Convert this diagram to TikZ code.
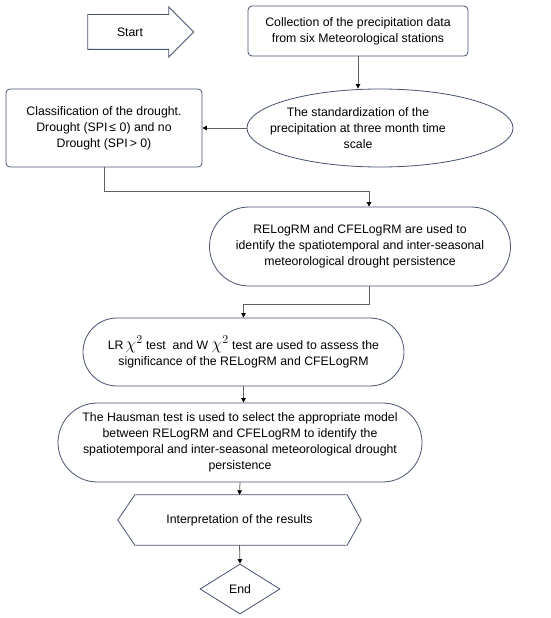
\documentclass[tikz,border=0pt]{standalone}
\usepackage{fontspec}
\setmainfont{Liberation Sans}
\usepackage{xcolor}
\usepackage{tikz}
\usetikzlibrary{arrows.meta, shapes.geometric, shapes.misc, shapes.arrows}
\definecolor{colEdge}{RGB}{72,82,112}
\definecolor{colLine}{RGB}{95,95,95}
\newcommand{\chisq}{{\fontsize{17}{17}\selectfont$\chi^{2}$}}

\begin{document}
\begin{tikzpicture}[x=1pt, y=-1pt,
    font=\fontsize{12.3}{16}\selectfont,
    box/.style={draw=colEdge, thick, align=center, inner sep=0pt},
    flow/.style={colLine, thick, -{Triangle[width=4.5pt,length=4.5pt,black]}}]

\useasboundingbox (0,0) rectangle (550,618);

% Start
\node[box, single arrow, single arrow head extend=7.5pt,
      text height=0pt, text depth=0pt, inner ysep=17pt,
      minimum height=106pt] (start) at (132,32) {};
\node (starttxt) at (130,32) {Start};

% Collecte
\node[box, rounded corners=4pt, minimum width=220pt, minimum height=50pt]
    (coll) at (358,31)
    {Collection of the precipitation data\\from six Meteorological stations};

% Standardisation (ellipse, texte decale a gauche)
\node[box, ellipse, minimum width=266pt, minimum height=78pt,
      label={[align=center, xshift=-22pt]center:The standardization of the\\precipitation at three month time\\scale}]
    (ell) at (380,128) {};

% Classification
\node[box, rounded corners=4pt, minimum width=196pt, minimum height=78pt]
    (cls) at (104,128)
    {Classification of the drought.\\Drought (SPI\,≤ 0) and no\\Drought (SPI\,> 0)};

% Modeles
\node[box, rounded rectangle, minimum width=301pt, minimum height=79pt]
    (rel) at (360,246.5)
    {RELogRM and CFELogRM are used to\\identify the spatiotemporal and inter-seasonal\\meteorological drought persistence};

% Tests
\node[box, rounded rectangle, minimum width=321pt, minimum height=68pt]
    (lr) at (243.5,352)
    {LR\,\chisq{} test\ \ and W \chisq{} test are used to assess the\\significance of the RELogRM and CFELogRM};

% Hausman
\node[box, rounded rectangle, minimum width=364pt, minimum height=79pt]
    (haus) at (240,442.5)
    {The Hausman test is used to select the appropriate model\\between RELogRM and CFELogRM to identify the\\spatiotemporal and inter-seasonal meteorological drought\\persistence};

% Interpretation (hexagone)
\node[minimum width=243pt, minimum height=50pt, inner sep=0pt]
    (interp) at (239.5,520) {Interpretation of the results};
\draw[colEdge, thick]
    ([xshift=17pt]interp.north west) -- ([xshift=-14pt]interp.north east)
    -- (interp.east) -- ([xshift=-14pt]interp.south east)
    -- ([xshift=17pt]interp.south west) -- (interp.west) -- cycle;

% Fin
\node[box, diamond, aspect=1.6, minimum width=80pt, minimum height=50pt]
    (fin) at (240,589) {End};

% Liaisons
\draw[flow] (coll.south) -- (coll.south |- ell.north);
\draw[flow] (ell.west) -- (cls.east);
\draw[flow] (cls.south) -- ++(0,24) -| ([xshift=9pt]rel.north);
\draw[flow] ([xshift=9pt]rel.south) -- ++(0,18) -| (lr.north);
\draw[flow] (lr.south) -- (lr.south |- haus.north);
\draw[flow] (haus.south) -- (interp.north);
\draw[flow] (interp.south) -- (fin.north);

\end{tikzpicture}
\end{document}
